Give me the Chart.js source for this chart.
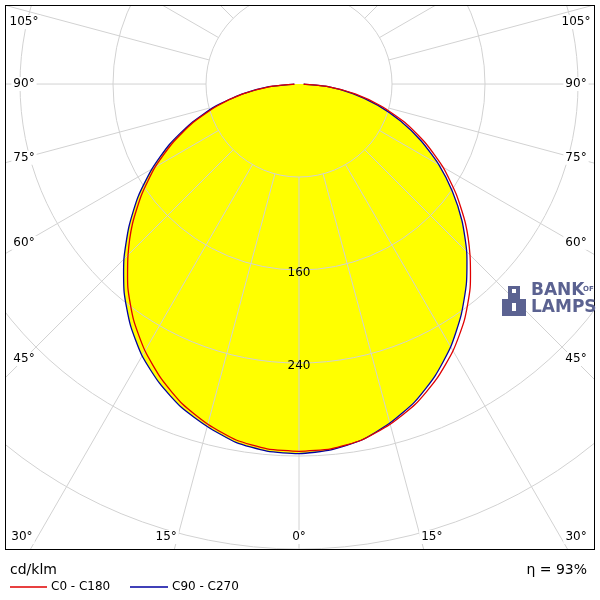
<!DOCTYPE html>
<html>
<head>
<meta charset="utf-8">
<script src="https://cdn.jsdelivr.net/npm/chart.js@4"></script>
<style>
  body { margin: 0; background: #fff; }
  canvas { display: block; }
</style>
</head>
<body>
<canvas id="polar" width="600" height="600"></canvas>
<script>
// gamma angles (deg) and intensities in cd/klm
const angles = [0, 5, 10, 15, 20, 25, 30, 35, 40, 45, 50, 55, 60, 65, 70, 75, 80, 85, 90];
const c0c180 = [316, 315, 311, 303, 293, 280, 265, 248, 229, 208, 187, 165, 143, 120, 97, 73, 49, 25, 4];
const c90 = [318, 317, 313, 305, 296, 284, 270, 253, 234, 213, 191, 169, 146, 123, 99, 75, 50, 26, 4];
const c270 = [318, 316, 311, 302, 291, 277, 261, 243, 224, 204, 183, 161, 139, 116, 93, 70, 47, 24, 4];
const ringValues = [80, 160, 240, 320, 400, 480, 560, 640];
const ringLabels = [160, 240];
const sideLabels = [45, 60, 75, 90, 105];
const bottomLabels = [0, 15, 30];

// polar (gamma, I) -> x/y in cd/klm, left half uses negative x
function toXY(leftVals, rightVals) {
  const pts = [];
  for (let i = angles.length - 1; i >= 0; i--) {
    const a = angles[i] * Math.PI / 180;
    pts.push({ x: -leftVals[i] * Math.sin(a), y: -leftVals[i] * Math.cos(a) });
  }
  for (let i = 1; i < angles.length; i++) {
    const a = angles[i] * Math.PI / 180;
    pts.push({ x: rightVals[i] * Math.sin(a), y: -rightVals[i] * Math.cos(a) });
  }
  return pts;
}

const gridPlugin = {
  id: "polarGrid",
  afterDatasetDraw(chart, args) {
    if (args.meta.label !== "fill") return;
    const { ctx, chartArea, scales } = chart;
    const cx = scales.x.getPixelForValue(0);
    const cy = scales.y.getPixelForValue(0);
    const k = scales.x.getPixelForValue(100) - cx;
    ctx.save();
    ctx.beginPath();
    ctx.rect(chartArea.left, chartArea.top, chartArea.right - chartArea.left, chartArea.bottom - chartArea.top);
    ctx.clip();
    ctx.strokeStyle = "#d2d2d2";
    ctx.lineWidth = 1;
    ringValues.forEach(v => {
      ctx.beginPath();
      ctx.arc(cx, cy, v * k / 100, 0, Math.PI * 2);
      ctx.stroke();
    });
    const r0 = ringValues[0] * k / 100;
    for (let a = 0; a < 360; a += 15) {
      const t = a * Math.PI / 180;
      ctx.beginPath();
      ctx.moveTo(cx + Math.sin(t) * r0, cy + Math.cos(t) * r0);
      ctx.lineTo(cx + Math.sin(t) * 1000, cy + Math.cos(t) * 1000);
      ctx.stroke();
    }
    ctx.restore();
  },
  afterDraw(chart) {
    const { ctx, chartArea, scales } = chart;
    const cx = scales.x.getPixelForValue(0);
    const cy = scales.y.getPixelForValue(0);
    ctx.save();
    ctx.strokeStyle = "#000";
    ctx.lineWidth = 1;
    ctx.strokeRect(chartArea.left + 0.5, chartArea.top + 0.5, chartArea.right - chartArea.left - 1, chartArea.bottom - chartArea.top - 1);
    ctx.font = "12px 'DejaVu Sans'";
    ctx.textAlign = "center";
    ctx.textBaseline = "middle";
    const label = (txt, x, y) => {
      const w = ctx.measureText(txt).width;
      ctx.fillStyle = "#fff";
      ctx.fillRect(x - w / 2 - 2, y - 7, w + 4, 14);
      ctx.fillStyle = "#000";
      ctx.fillText(txt, x, y);
    };
    sideLabels.forEach(a => {
      const t = (90 - a) * Math.PI / 180;
      const lx = chartArea.left + 19;
      const rx = chartArea.right - 19;
      const y = Math.max(chartArea.top + 17, cy + (cx - lx) * Math.tan(t));
      label(a + "°", lx, y);
      label(a + "°", rx, y);
    });
    bottomLabels.forEach(a => {
      const t = a * Math.PI / 180;
      const dx = (chartArea.bottom - cy) * Math.tan(t);
      const y = chartArea.bottom - 13;
      if (a === 0) { label("0°", cx, y); return; }
      label(a + "°", cx - dx - 8, y);
      label(a + "°", cx + dx + 8, y);
    });
    ctx.fillStyle = "#000";
    ringLabels.forEach(v => {
      ctx.fillText(String(v), cx, scales.y.getPixelForValue(-v) + 3);
    });
    // logo
    ctx.fillStyle = "#5b6291";
    ctx.textAlign = "left";
    ctx.font = "bold 17px 'DejaVu Sans'";
    ctx.fillText("BANK", 531, 291);
    ctx.fillText("LAMPS", 531, 308);
    ctx.font = "bold 7px 'DejaVu Sans'";
    ctx.fillText("OF", 583, 289);
    ctx.fillRect(502, 299, 24, 17);
    ctx.fillRect(508, 286, 12, 13);
    ctx.fillStyle = "#fff";
    ctx.fillRect(512, 289, 4, 4);
    ctx.fillRect(512, 303, 4, 8);
    // footer
    ctx.fillStyle = "#000";
    ctx.font = "14px 'DejaVu Sans'";
    ctx.fillText("cd/klm", 10, 570);
    ctx.textAlign = "right";
    ctx.fillText("η = 93%", 587, 570);
    ctx.textAlign = "left";
    ctx.font = "12px 'DejaVu Sans'";
    ctx.fillText("C0 - C180", 51, 587);
    ctx.fillText("C90 - C270", 172, 587);
    ctx.lineWidth = 1.5;
    ctx.strokeStyle = "#e00000";
    ctx.beginPath(); ctx.moveTo(10, 587); ctx.lineTo(47, 587); ctx.stroke();
    ctx.strokeStyle = "#0000a0";
    ctx.beginPath(); ctx.moveTo(130, 587); ctx.lineTo(168, 587); ctx.stroke();
    ctx.restore();
  }
};

const red = toXY(c0c180, c0c180);
const blue = toXY(c90, c270);

new Chart(document.getElementById("polar"), {
  type: "scatter",
  data: {
    datasets: [
      { label: "fill", data: blue, showLine: true, fill: "shape", backgroundColor: "#ffff00", borderWidth: 0, pointRadius: 0, tension: 0.2, order: 3 },
      { label: "C90 - C270", data: blue, showLine: true, fill: false, borderColor: "#0000a0", borderWidth: 1.3, pointRadius: 0, tension: 0.2, order: 2 },
      { label: "C0 - C180", data: red, showLine: true, fill: false, borderColor: "#e00000", borderWidth: 1.3, pointRadius: 0, tension: 0.2, order: 1 }
    ]
  },
  options: {
    responsive: false,
    animation: false,
    layout: { padding: { left: 5, right: 5, top: 5, bottom: 50 } },
    plugins: { legend: { display: false }, tooltip: { enabled: false } },
    scales: {
      x: { type: "linear", display: false, min: -252.9, max: 254.6 },
      y: { type: "linear", display: false, min: -400.9, max: 68 }
    }
  },
  plugins: [gridPlugin]
});
</script>
</body>
</html>
